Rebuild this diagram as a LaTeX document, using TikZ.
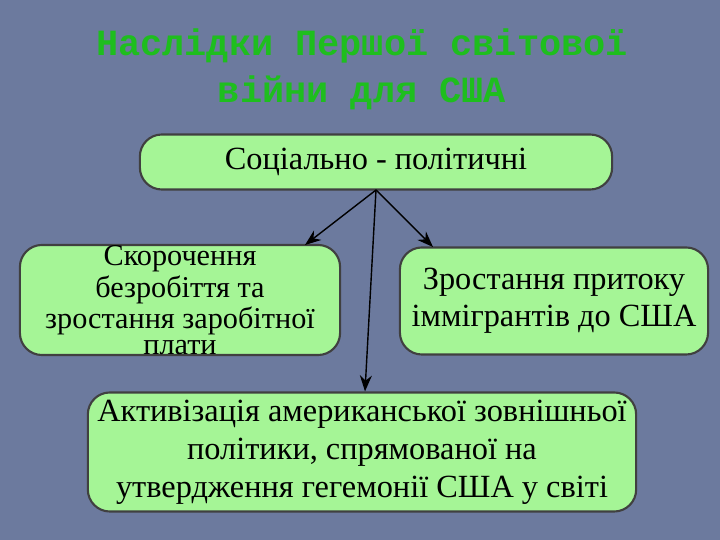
\documentclass[tikz,border=0pt]{standalone}
\usepackage{fontspec}
\setmainfont{Liberation Serif}
\newfontfamily\titlefont{Liberation Mono}
\usetikzlibrary{arrows.meta}
\tikzset{
 box/.style={draw=black!75,line width=0.6pt,fill={rgb,255:red,165;green,245;blue,150},rounded corners=2.2mm,inner sep=0pt,align=center,text=black},
 conn/.style={-{Stealth[length=1.6mm,width=1.2mm]},line width=0.4pt,black}}
\begin{document}
\begin{tikzpicture}[x=0.01cm,y=-0.01cm]
\fill[fill={rgb,255:red,108;green,122;blue,158}] (0,0) rectangle (720,540);
\useasboundingbox (0,0) rectangle (720,540);
\node[text={rgb,255:red,30;green,190;blue,30},font=\titlefont\bfseries\fontsize{10.5}{13.3}\selectfont,align=center] (title) at (362,69) {Наслідки Першої світової\\війни для США};
\node[box,minimum width=4.72cm,minimum height=0.55cm,font=\fontsize{9.2}{11}\selectfont] (top) at (376,162) {Соціально - політичні};
\node[box,minimum width=3.2cm,minimum height=1.1cm,font=\fontsize{8.6}{7.2}\selectfont] (left) at (180,300) {Скорочення\\безробіття та\\зростання заробітної\\плати};
\node[box,minimum width=3.08cm,minimum height=1.07cm,font=\fontsize{9.2}{10.6}\selectfont] (right) at (554,301) {Зростання притоку\\іммігрантів до США};
\node[box,minimum width=5.48cm,minimum height=1.19cm,font=\fontsize{9.2}{10.8}\selectfont] (bot) at (362,452) {Активізація американської зовнішньої\\політики, спрямованої на\\утвердження гегемонії США у світі};
\coordinate (o) at (376,190);
\draw[conn] (o) -- (305,245);
\draw[conn] (o) -- (433,247);
\draw[conn] (o) -- (bot.north -| 365,0);
\end{tikzpicture}
\end{document}
